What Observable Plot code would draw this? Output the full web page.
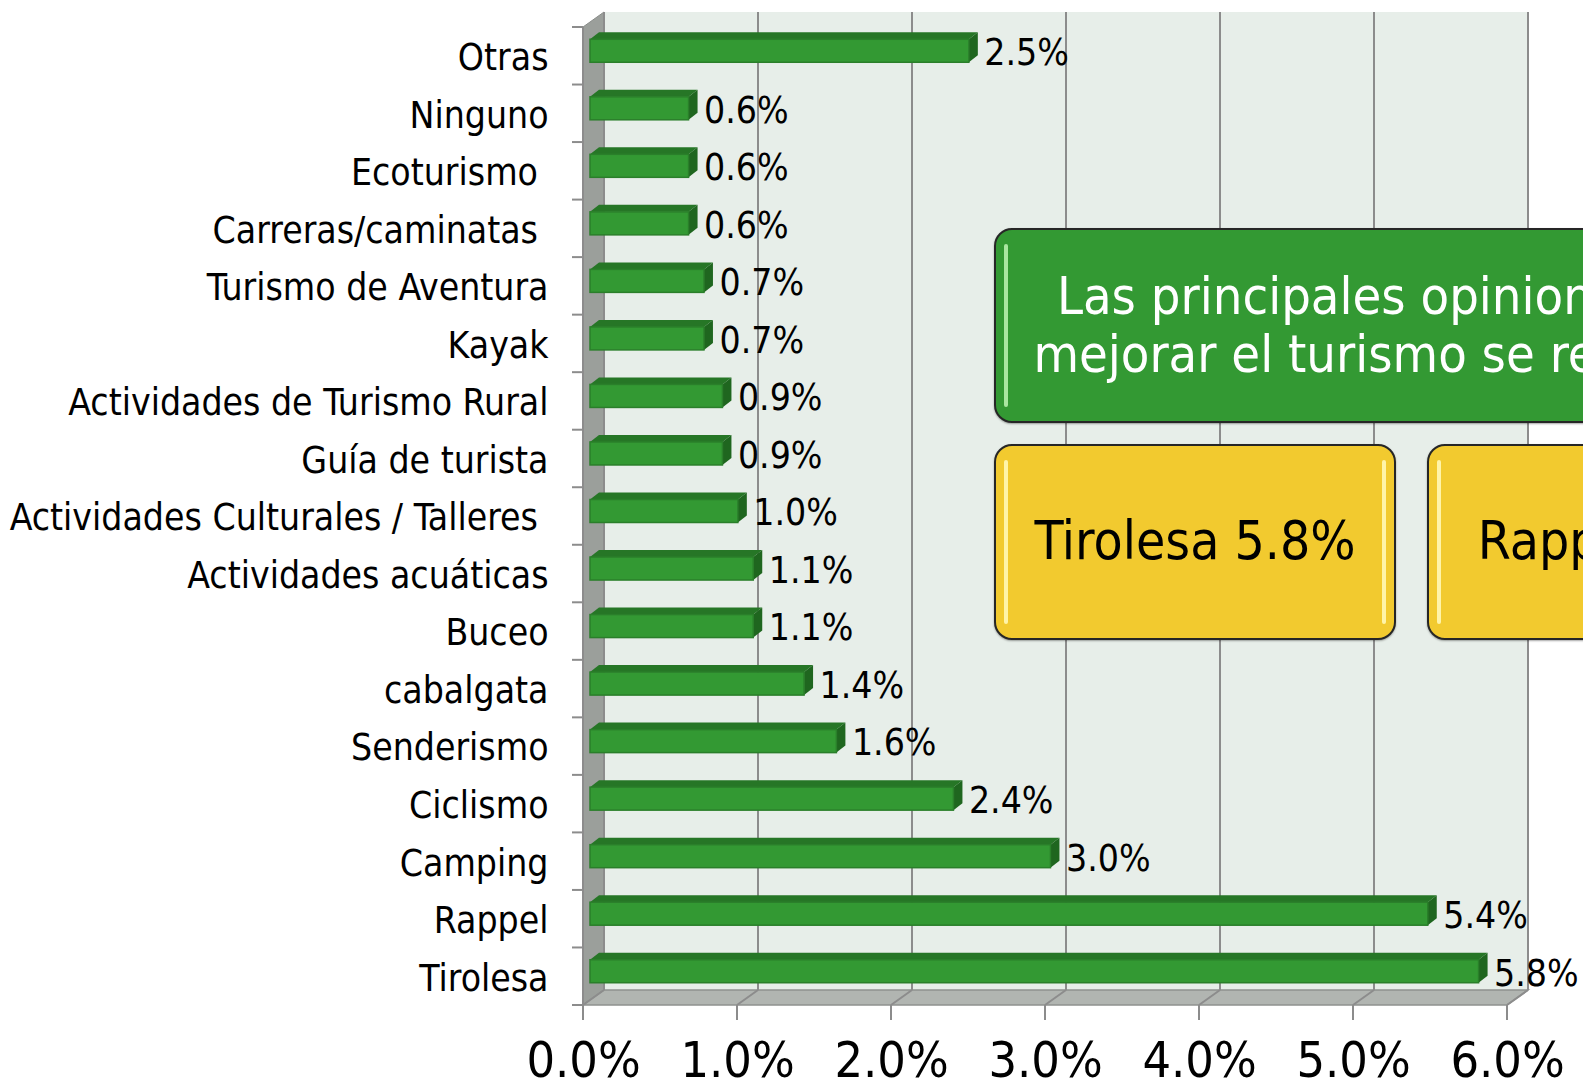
<!DOCTYPE html>
<html>
<head>
<meta charset="utf-8">
<script src="https://cdn.jsdelivr.net/npm/d3@7"></script>
<script src="https://cdn.jsdelivr.net/npm/@observablehq/plot@0.6"></script>
<style>
  html, body { margin: 0; padding: 0; background: #ffffff; }
  #wrap { position: relative; width: 1583px; height: 1089px; overflow: hidden; background: #fff;
          font-family: "DejaVu Sans Condensed", "DejaVu Sans", sans-serif; }
  #wrap svg text { white-space: pre; }
  .box { position: absolute; box-sizing: border-box; border: 2px solid #262626; border-radius: 18px;
         box-shadow: 0 1px 2px rgba(0,0,0,0.35); overflow: hidden; }
  .box .hl { position: absolute; top: 14px; bottom: 14px; width: 4px; border-radius: 2px; }
  .box .txt { position: absolute; left: 0; right: 0; text-align: center; white-space: pre; line-height: 58px; }
</style>
</head>
<body>
<div id="wrap"></div>
<script>
// ---- data ----
const categories = [
  "Otras", "Ninguno", "Ecoturismo ", "Carreras/caminatas ", "Turismo de Aventura", "Kayak",
  "Actividades de Turismo Rural", "Guía de turista", "Actividades Culturales / Talleres ",
  "Actividades acuáticas", "Buceo", "cabalgata", "Senderismo", "Ciclismo", "Camping", "Rappel", "Tirolesa"
];
const values = [2.46, 0.64, 0.64, 0.64, 0.74, 0.74, 0.86, 0.86, 0.96, 1.06, 1.06, 1.39, 1.60, 2.36, 2.99, 5.44, 5.77];
const xTicks = [0, 1, 2, 3, 4, 5, 6];
const headline = ["Las principales opiniones para", "mejorar el turismo se refieren a:"];
const highlights = ["Tirolesa 5.8%", "Rappel 5.4%"];

const data = categories.map((c, i) => ({category: c, value: values[i]}));

// ---- 3D look parameters ----
const DX = 21, DY = -15;        // wall depth
const BZ = 7, BZY = -5;         // bar front offset
const BDX = 9, BDY = -7;        // bar depth
const BH = 23;                  // bar front height

function walls(index, scales, values, dims) {
  const X = scales.x;
  const bw = (dims.height - dims.marginTop - dims.marginBottom) / categories.length;
  const x0 = X(0), x6 = X(6);
  const yTop = dims.marginTop, yBot = dims.height - dims.marginBottom;
  const g = d3.create("svg:g");
  g.append("rect").attr("x", x0 + DX).attr("y", yTop + DY).attr("width", x6 - x0).attr("height", yBot - yTop)
    .attr("fill", "#e7eee9");
  g.append("polygon").attr("points", [[x0, yTop], [x0 + DX, yTop + DY], [x0 + DX, yBot + DY], [x0, yBot]].join(" "))
    .attr("fill", "#9b9f9b").attr("stroke", "#8a8d8a").attr("stroke-width", 1);
  g.append("polygon").attr("points", [[x0, yBot], [x0 + DX, yBot + DY], [x6 + DX, yBot + DY], [x6, yBot]].join(" "))
    .attr("fill", "#b1b5b1").attr("stroke", "#8e918e").attr("stroke-width", 1.5);
  for (const t of xTicks) {
    const x = X(t);
    g.append("line").attr("x1", x + DX).attr("x2", x + DX).attr("y1", yTop + DY).attr("y2", yBot + DY)
      .attr("stroke", "#8c8c8c").attr("stroke-width", 2);
    g.append("line").attr("x1", x).attr("x2", x + DX).attr("y1", yBot).attr("y2", yBot + DY)
      .attr("stroke", "#8c8c8c").attr("stroke-width", 2);
    g.append("line").attr("x1", x).attr("x2", x).attr("y1", yBot).attr("y2", yBot + 15)
      .attr("stroke", "#8c8c8c").attr("stroke-width", 2);
  }
  for (let i = 0; i <= categories.length; i++) {
    const y = yTop + i * bw;
    g.append("line").attr("x1", x0 - 11).attr("x2", x0).attr("y1", y).attr("y2", y)
      .attr("stroke", "#8c8c8c").attr("stroke-width", 2);
  }
  g.append("line").attr("x1", x0).attr("x2", x0).attr("y1", yTop).attr("y2", yBot)
    .attr("stroke", "#8c8c8c").attr("stroke-width", 2);
  return g.node();
}

function bars(index, scales, values, dims) {
  const X = scales.x, Y = scales.y;
  const bw = Y.bandwidth ? Y.bandwidth() : (dims.height - dims.marginTop - dims.marginBottom) / categories.length;
  const g = d3.create("svg:g");
  for (const d of data) {
    const xs = X(0) + BZ, xe = X(d.value) + BZ;
    const yc = Y(d.category) + bw / 2 + BZY;
    const yt = yc - BH / 2, yb = yc + BH / 2;
    g.append("polygon").attr("points", [[xs, yt], [xs + BDX, yt + BDY], [xe + BDX, yt + BDY], [xe, yt]].join(" "))
      .attr("fill", "#267626");
    g.append("polygon").attr("points", [[xe, yt], [xe + BDX, yt + BDY], [xe + BDX, yb + BDY], [xe, yb]].join(" "))
      .attr("fill", "#1f661f");
    g.append("rect").attr("x", xs).attr("y", yt).attr("width", xe - xs).attr("height", BH)
      .attr("fill", "#339933").attr("stroke", "#2a7f2a").attr("stroke-width", 1.5);
  }
  return g.node();
}

const chart = Plot.plot({
  width: 1583,
  height: 1089,
  marginLeft: 583,
  marginRight: 76,
  marginTop: 27,
  marginBottom: 84,
  x: {domain: [0, 6], axis: null},
  y: {type: "band", domain: categories, axis: null, padding: 0, round: false},
  style: {fontFamily: "'DejaVu Sans Condensed', 'DejaVu Sans', sans-serif", background: "transparent", color: "#000"},
  marks: [
    walls,
    bars,
    Plot.text(data, {
      x: "value", y: "category", text: d => d.value.toFixed(1) + "%",
      textAnchor: "start", dx: BZ + BDX + 6, dy: -3, fontSize: 37, fill: "#000"
    }),
    Plot.text(categories, {
      x: () => 0, y: d => d, text: d => d, textAnchor: "end", dx: -35, dy: 2, fontSize: 37, fill: "#000"
    }),
    Plot.text(xTicks, {
      x: d => d, frameAnchor: "bottom", text: d => d.toFixed(1) + "%", dy: 71, fontSize: 50, fill: "#000"
    })
  ]
});

const wrap = document.getElementById("wrap");
wrap.appendChild(chart);

function addBox(left, top, width, height, bg, hl, lines, color, fontSize, textTop, rightHl) {
  const b = document.createElement("div");
  b.className = "box";
  Object.assign(b.style, {left: left + "px", top: top + "px", width: width + "px", height: height + "px",
    background: bg});
  const h = document.createElement("div");
  h.className = "hl";
  Object.assign(h.style, {left: "8px", background: hl});
  b.appendChild(h);
  if (rightHl) {
    const h2 = document.createElement("div");
    h2.className = "hl";
    Object.assign(h2.style, {right: "8px", background: hl});
    b.appendChild(h2);
  }
  const t = document.createElement("div");
  t.className = "txt";
  Object.assign(t.style, {top: textTop + "px", color: color, fontSize: fontSize + "px"});
  t.textContent = lines.join("\n");
  b.appendChild(t);
  wrap.appendChild(b);
}

addBox(994, 228, 836, 195, "#339933", "#a9e6a0", headline, "#ffffff", 52, 37, false);
addBox(994, 444, 402, 196, "#f2ca2f", "#fff4a8", [highlights[0]], "#000000", 53, 66, true);
addBox(1427, 444, 402, 196, "#f2ca2f", "#fff4a8", [highlights[1]], "#000000", 53, 66, true);
</script>
</body>
</html>
